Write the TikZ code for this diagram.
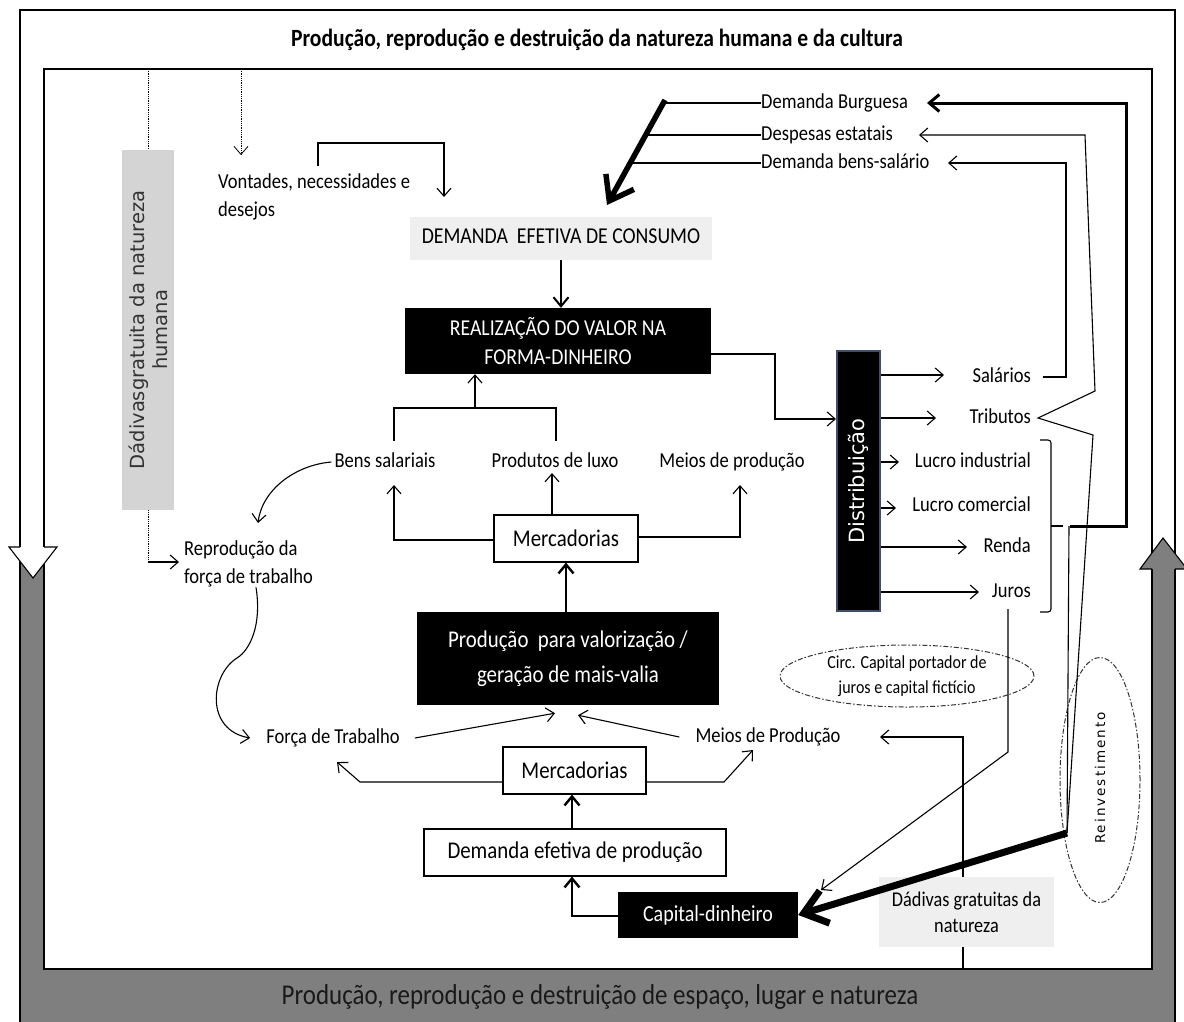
\documentclass[tikz,border=0pt]{standalone}
\usepackage{fontspec}
\setmainfont{Carlito}[FakeStretch=0.87]
\newfontfamily\verd{DejaVu Sans}
\newfontfamily\verdsp[LetterSpace=15]{DejaVu Sans}
\usetikzlibrary{arrows.meta,shapes.geometric,calc}
\definecolor{framegray}{HTML}{7F7F7F}
\definecolor{boxgray}{HTML}{D4D4D4}
\definecolor{lightbox}{HTML}{EFEFEF}
\definecolor{distedge}{HTML}{3F4E6A}
\begin{document}
\begin{tikzpicture}[x=1pt,y=-1pt,
  txt/.style={font=\fontsize{21.3}{28}\selectfont, inner sep=0pt, align=center},
  caps/.style={font=\fontsize{22.7}{29}\selectfont},
  one/.style={text height=15pt, text depth=5pt},
  ln/.style={draw=black, line width=1.1pt},
  barb/.style={ln, -{Straight Barb[length=8pt,width=14pt]}},
  thk/.style={draw=black, line width=2.4pt, -{Straight Barb[length=9pt,width=15pt]}},
  blackbox/.style={fill=black, text=white, inner sep=0pt, align=center},
  whitebox/.style={draw=black, line width=1.1pt, fill=white, inner sep=0pt, align=center, font=\fontsize{24}{28}\selectfont},
  dotln/.style={draw=black, line width=0.8pt, densely dotted},
  dd/.style={draw=black!80, line width=1pt, dash pattern=on 5pt off 2pt on 1.5pt off 2pt},
]
\useasboundingbox (0,0) rectangle (1184,1021);
% ---------- frame ----------
\fill[framegray] (20,547) -- (20,1030) -- (1175,1030) -- (1175,569) -- (1152,569) -- (1152,969) -- (44,969) -- (44,547) -- cycle;
\draw[line width=1.3pt] (20,10) rectangle (1175,1030);
\draw[line width=1.3pt, fill=white] (44,69) rectangle (1152,969);
\filldraw[fill=white, line width=1.1pt] (20,547) -- (9,547) -- (33,578) -- (57,547) -- (44,547);
\filldraw[fill=framegray, line width=1.1pt] (1152,569) -- (1140,569) -- (1163,538) -- (1187,569) -- (1175,569);
\node[font=\bfseries\fontsize{24.8}{28}\selectfont, inner sep=0pt] (title) at (597,40) {Produção, reprodução e destruição da natureza humana e da cultura};
\node[font=\fontsize{28.7}{32}\selectfont, text=black!90, inner sep=0pt] (bottom) at (600,997) {Produção, reprodução e destruição de espaço, lugar e natureza};
% ---------- connectors drawn under boxes ----------
\coordinate (dadbot) at (963,969);
\draw[barb] (dadbot) -- (963,737) -- (880,737);
% ---------- nodes ----------
\node[fill=boxgray, rotate=90, minimum width=360pt, minimum height=52pt, inner sep=0pt, align=center, text=black!80, font=\verd\fontsize{19.5}{23}\selectfont] (dnh) at (148,330) {Dádivasgratuita da natureza\\humana};
\node[txt, anchor=west, align=left] (vont) at (218,197) {Vontades, necessidades e\\desejos};
\node[txt, caps, one, fill=lightbox, minimum width=302pt, minimum height=43pt] (dec) at (561,238.5) {DEMANDA\ \ EFETIVA DE CONSUMO};
\node[txt, caps, blackbox, minimum width=306pt, minimum height=66pt] (real) at (558,341) {REALIZAÇÃO DO VALOR NA\\FORMA-DINHEIRO};
\node[txt, one] (bens) at (385,462) {Bens salariais};
\node[txt, one] (luxo) at (555,462) {Produtos de luxo};
\node[txt, one] (meios) at (732,462) {Meios de produção};
\node[whitebox, minimum width=144pt, minimum height=47pt] (merc1) at (566,538.5) {Mercadorias};
\node[txt, anchor=west, align=left] (repro) at (184,564) {Reprodução da\\força de trabalho};
\node[blackbox, font=\fontsize{24}{35}\selectfont, minimum width=302pt, minimum height=93pt] (prodv) at (568,658.5) {Produção\ \ para valorização /\\geração de mais-valia};
\node[txt, one] (forca) at (333,738) {Força de Trabalho};
\node[txt, one] (meiosP) at (768,737) {Meios de Produção};
\node[whitebox, minimum width=143pt, minimum height=47pt] (merc2) at (574.5,770.5) {Mercadorias};
\node[whitebox, minimum width=302pt, minimum height=47pt] (demP) at (575,852.5) {Demanda efetiva de produção};
\node[blackbox, font=\fontsize{23}{26}\selectfont, minimum width=180pt, minimum height=46pt] (cap) at (708,915) {Capital-dinheiro};
\node[txt, fill=lightbox, font=\fontsize{21}{26}\selectfont, minimum width=175pt, minimum height=70pt] (dadn) at (966.5,912) {Dádivas gratuitas da\\natureza};
\node[ellipse, dd, font=\fontsize{18.4}{25}\selectfont, minimum width=254pt, minimum height=62pt, inner sep=0pt, align=center] (circ) at (907,676) {Circ. Capital portador de\\juros e capital fictício};
\node[ellipse, dd, minimum width=80pt, minimum height=245pt, inner sep=0pt] (reinvE) at (1100,780) {};
\node[rotate=90, font=\verdsp\fontsize{13.5}{15}\selectfont, inner sep=0pt] (reinv) at (1100,778) {Reinvestimento};
\node[fill=black, draw=distedge, line width=2pt, rotate=90, minimum width=260pt, minimum height=43pt, inner sep=0pt, text=white, font=\verd\fontsize{21}{24}\selectfont] (dist) at (858.5,481) {Distribuição};
\node[txt, one, anchor=east] (sal) at (1031,377) {Salários};
\node[txt, one, anchor=east] (trib) at (1031,418) {Tributos};
\node[txt, one, anchor=east] (li) at (1031,462) {Lucro industrial};
\node[txt, one, anchor=east] (lc) at (1031,506) {Lucro comercial};
\node[txt, one, anchor=east] (renda) at (1031,547) {Renda};
\node[txt, one, anchor=east] (juros) at (1031,592) {Juros};
\node[txt, one, anchor=west] (db) at (761,103) {Demanda Burguesa};
\node[txt, one, anchor=west] (de) at (761,135) {Despesas estatais};
\node[txt, one, anchor=west] (dbs) at (761,163) {Demanda bens-salário};
% ---------- connectors ----------
\coordinate (t1) at (148,69);
\draw[dotln] (t1) -- (dnh.east);
\coordinate (d1) at (148,562);
\draw[dotln] (dnh.west) -- (d1);
\draw[barb] (d1) -- ([xshift=-5pt]repro.west |- d1);
\coordinate (t2) at (241,69);
\draw[dotln, -{Straight Barb[length=8pt,width=14pt]}] (t2) -- (241,155);
\draw[barb] (vont.north -| 318,0) ++(0,-8) -- (318,143) -- (444,143) -- (444,197);
\draw[draw=black, line width=2pt, -{Straight Barb[length=9pt,width=15pt]}] (dec.south) -- (dec.south |- real.north);
\draw[ln] (394,441) -- (394,408) -- (556,408) -- (556,441);
\draw[barb] (475,408) -- (real.south -| 475,0);
\draw[barb] (merc1.west |- 0,540) -- (394,540) -- (394,485);
\draw[barb] (merc1.north -| 552,0) -- (552,473);
\draw[barb] (merc1.east |- 0,537) -- (740,537) -- (740,485);
\draw[thk] (prodv.north -| 566,0) -- (merc1.south -| 566,0);
\draw[barb] ([xshift=-3pt]bens.west) .. controls (295,465) and (262,490) .. (258,523);
\draw[barb] (repro.south -| 256,0) .. controls (262,625) and (250,650) .. (237,658) .. controls (210,675) and (205,730) .. ([xshift=-16pt]forca.west);
\draw[barb] ([xshift=15pt]forca.east) -- ($(prodv.south -| 555,0)+(0,8)$);
\draw[barb] ([xshift=-16pt]meiosP.west) -- ($(prodv.south -| 578,0)+(0,10)$);
\draw[barb] (merc2.west |- 0,782) -- (360,782) -- (337,762);
\draw[barb] (merc2.east |- 0,782) -- (724,782) -- (753,750);
\draw[thk] (demP.north -| 572,0) -- (merc2.south -| 572,0);
\draw[thk] (cap.west |- 0,916) -- (572,916) -- (demP.south -| 572,0);
\draw[barb] (real.east |- 0,354) -- (775,354) -- (775,419) -- (dist.north |- 0,419);
\draw[barb] (dist.south |- 0,375) -- (944,375);
\draw[barb] (dist.south |- 0,418) -- (936,418);
\draw[barb] (dist.south |- 0,462) -- (899,462);
\draw[barb] (dist.south |- 0,508) -- (896,508);
\draw[barb] (dist.south |- 0,547) -- (967,547);
\draw[barb] (dist.south |- 0,592) -- (979,592);
\coordinate (rv) at (1067,833);
\draw[barb] ([xshift=12pt]sal.east) -- (1066,377) -- (1066,163) -- (948,163);
\draw[barb] (rv) -- (1093,435) -- ([xshift=7pt]trib.east) -- (1095,391) -- (1085,135) -- (919,135);
\draw[ln, rounded corners=3pt] (1040,440) -- (1051,440) -- (1051,612) -- (1040,612);
\draw[ln] (1051,526) -- (1063,526);
\draw[draw=black, line width=3pt, -{Straight Barb[length=10pt,width=17pt]}] (1070,526) -- (1126,526) -- (1126,103) -- (927,103);
\draw[ln] (1069,526) -- (rv);
\draw[barb] (juros.south -| 1008,0) ++(0,7) -- (1008,752) -- (821,890);
\draw[draw=black, line width=7pt, -{Straight Barb[length=22pt,width=34pt]}] (rv) -- (cap.east);
\draw[ln] (db.west) -- (663.3,103);
\draw[ln] (de.west) -- (645.7,135);
\draw[ln] (dbs.west) -- (630.2,163);
\draw[draw=black, line width=5.5pt, -{Straight Barb[length=22pt,width=32pt]}] (665,100) -- (607,205);
\end{tikzpicture}
\end{document}
